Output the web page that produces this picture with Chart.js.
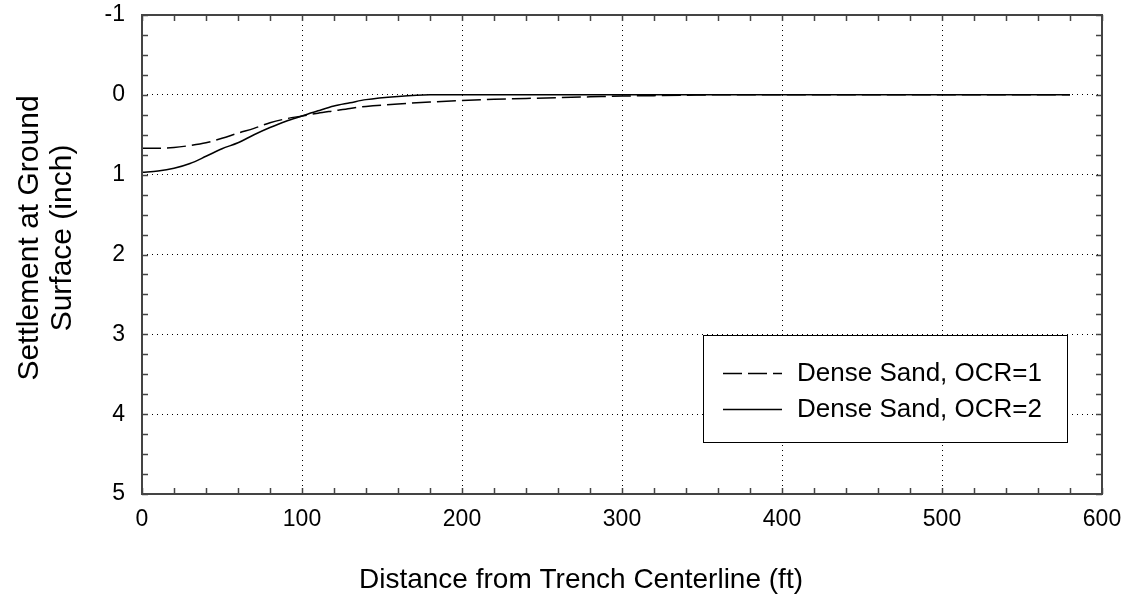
<!DOCTYPE html>
<html>
<head>
<meta charset="utf-8">
<script src="https://cdn.jsdelivr.net/npm/chart.js@4.4.1/dist/chart.umd.min.js"></script>
<style>
  html, body { margin: 0; padding: 0; background: #fff; }
  #wrap { width: 1136px; height: 603px; }
</style>
</head>
<body>
<div id="wrap"><canvas id="c" width="1136" height="603"></canvas></div>
<script>
// Distance from the trench centerline (ft)
const distanceFt = [0, 10, 20, 30, 40, 50, 60, 70, 80, 90, 100, 110, 120, 130, 140, 160, 180, 200,
  220, 240, 260, 280, 300, 320, 340, 360, 380, 400, 450, 500, 550, 580];

// Surface settlement (inch), positive = downward
const settleOcr1 = [0.67, 0.67, 0.66, 0.635, 0.60, 0.545, 0.48, 0.42, 0.35, 0.30, 0.265, 0.23, 0.20,
  0.17, 0.145, 0.115, 0.09, 0.07, 0.055, 0.045, 0.035, 0.025, 0.015, 0.01, 0.005, 0, 0, 0, 0, 0, 0, 0];
const settleOcr2 = [0.97, 0.955, 0.92, 0.86, 0.77, 0.675, 0.60, 0.50, 0.41, 0.33, 0.265, 0.20, 0.14,
  0.10, 0.06, 0.02, 0, 0, 0, 0, 0, 0, 0, 0, 0, 0, 0, 0, 0, 0, 0, 0];

const seriesLabels = ['Dense Sand, OCR=1', 'Dense Sand, OCR=2'];
const xTitle = 'Distance from Trench Centerline (ft)';
const yTitleLines = ['Settlement at Ground', 'Surface (inch)'];

const FONT = '"Liberation Sans", Arial, Helvetica, sans-serif';

function toPoints(xs, ys) {
  return xs.map((x, i) => ({ x: x, y: ys[i] }));
}

// Frame, inward minor/major ticks on all four sides, axis titles and boxed legend
const decorPlugin = {
  id: 'decor',
  afterDraw(chart) {
    const ctx = chart.ctx;
    const a = chart.chartArea;
    const xs = chart.scales.x, ys = chart.scales.y;
    const tickLen = 6;
    ctx.save();

    // inward ticks
    ctx.strokeStyle = '#444';
    ctx.lineWidth = 1.5;
    ctx.beginPath();
    for (let v = 0; v <= 600; v += 20) {
      const px = Math.round(xs.getPixelForValue(v)) + 0.5;
      ctx.moveTo(px, a.bottom); ctx.lineTo(px, a.bottom - tickLen);
      ctx.moveTo(px, a.top); ctx.lineTo(px, a.top + tickLen);
    }
    for (let v = -1; v <= 5.0001; v += 0.25) {
      const py = Math.round(ys.getPixelForValue(v)) + 0.5;
      ctx.moveTo(a.left, py); ctx.lineTo(a.left + tickLen, py);
      ctx.moveTo(a.right, py); ctx.lineTo(a.right - tickLen, py);
    }
    ctx.stroke();

    // frame
    ctx.lineWidth = 2;
    ctx.strokeStyle = '#444';
    ctx.strokeRect(a.left, a.top, a.right - a.left, a.bottom - a.top);

    // legend box
    const lx = 703, ly = 335, lw = 364, lh = 107;
    ctx.fillStyle = '#fff';
    ctx.fillRect(lx, ly, lw, lh);
    ctx.lineWidth = 1;
    ctx.strokeStyle = '#000';
    ctx.strokeRect(lx + 0.5, ly + 0.5, lw, lh);
    const rows = [373, 409];
    chart.data.datasets.forEach((ds, i) => {
      const y = rows[i] + 0.5;
      ctx.beginPath();
      ctx.setLineDash(ds.borderDash || []);
      ctx.lineWidth = ds.borderWidth;
      ctx.strokeStyle = ds.borderColor;
      ctx.moveTo(723, y); ctx.lineTo(782, y);
      ctx.stroke();
      ctx.setLineDash([]);
      ctx.fillStyle = '#000';
      ctx.font = '26px ' + FONT;
      ctx.textAlign = 'left';
      ctx.textBaseline = 'middle';
      ctx.fillText(ds.label, 797, rows[i] + 1);
    });

    // axis titles
    ctx.fillStyle = '#000';
    ctx.font = '28px ' + FONT;
    ctx.textAlign = 'center';
    ctx.textBaseline = 'middle';
    ctx.fillText(xTitle, 581, 580);

    ctx.font = '30px ' + FONT;
    ctx.save();
    ctx.translate(30, 238);
    ctx.rotate(-Math.PI / 2);
    ctx.fillText(yTitleLines[0], 0, 0);
    ctx.restore();
    ctx.save();
    ctx.translate(63, 238);
    ctx.rotate(-Math.PI / 2);
    ctx.fillText(yTitleLines[1], 0, 0);
    ctx.restore();

    ctx.restore();
  }
};

new Chart(document.getElementById('c'), {
  type: 'line',
  data: {
    datasets: [
      {
        label: seriesLabels[0],
        data: toPoints(distanceFt, settleOcr1),
        borderColor: '#000',
        borderWidth: 1.5,
        borderDash: [19, 6],
        pointRadius: 0,
        fill: false,
        cubicInterpolationMode: 'monotone'
      },
      {
        label: seriesLabels[1],
        data: toPoints(distanceFt, settleOcr2),
        borderColor: '#000',
        borderWidth: 1.5,
        pointRadius: 0,
        fill: false,
        cubicInterpolationMode: 'monotone'
      }
    ]
  },
  options: {
    responsive: false,
    animation: false,
    devicePixelRatio: 1,
    layout: { padding: { top: 15, right: 34, left: 0, bottom: 0 } },
    plugins: {
      legend: { display: false },
      tooltip: { enabled: false },
      title: { display: false }
    },
    scales: {
      x: {
        type: 'linear',
        min: 0,
        max: 600,
        afterFit(scale) {
          scale.height = 109;
          scale.paddingLeft = 0; scale.paddingRight = 0;
          scale.paddingTop = 0; scale.paddingBottom = 0;
        },
        ticks: {
          stepSize: 100,
          color: '#000',
          padding: 12,
          maxRotation: 0,
          font: { family: FONT, size: 23 }
        },
        grid: {
          drawTicks: false,
          color: '#000',
          lineWidth: 1
        },
        border: { display: false, dash: [1, 4] }
      },
      y: {
        type: 'linear',
        reverse: true,
        min: -1,
        max: 5,
        afterFit(scale) {
          scale.width = 142;
          scale.paddingTop = 0; scale.paddingBottom = 0;
          scale.paddingLeft = 0; scale.paddingRight = 0;
        },
        ticks: {
          stepSize: 1,
          color: '#000',
          padding: 17,
          font: { family: FONT, size: 23 }
        },
        grid: {
          drawTicks: false,
          color: '#000',
          lineWidth: 1
        },
        border: { display: false, dash: [1, 4] }
      }
    }
  },
  plugins: [decorPlugin]
});
</script>
</body>
</html>
